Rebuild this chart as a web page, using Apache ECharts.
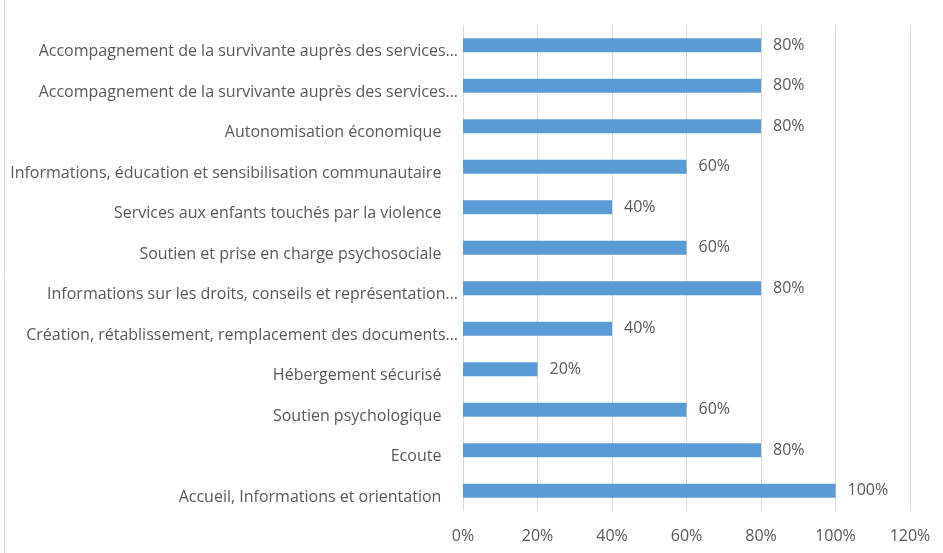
<!DOCTYPE html>
<html>
<head>
<meta charset="utf-8">
<script src="https://cdn.jsdelivr.net/npm/echarts@6/dist/echarts.min.js"></script>
<style>
  html, body { margin: 0; padding: 0; background: #fff; }
  #chart { width: 943px; height: 553px; }
</style>
</head>
<body>
<div id="chart"></div>
<script>
// Categories listed bottom to top (ECharts category axis starts at the bottom)
const categories = [
  'Accueil, Informations et orientation    ',
  'Ecoute    ',
  'Soutien psychologique    ',
  'Hébergement sécurisé    ',
  'Création, rétablissement, remplacement des documents…',
  'Informations sur les droits, conseils et représentation…',
  'Soutien et prise en charge psychosociale    ',
  'Services aux enfants touchés par la violence    ',
  'Informations, éducation et sensibilisation communautaire    ',
  'Autonomisation économique    ',
  'Accompagnement de la survivante auprès des services…',
  'Accompagnement de la survivante auprès des services…'
];
const values = [100, 80, 60, 20, 40, 80, 60, 40, 60, 80, 80, 80];
const axisTicks = [0, 20, 40, 60, 80, 100, 120];

const chart = echarts.init(document.getElementById('chart'));
const textColor = '#595959';
const fontFamily = '"Open Sans", sans-serif';

chart.setOption({
  animation: false,
  grid: { left: 463, right: 33, top: 25, bottom: 42, containLabel: false },
  xAxis: {
    type: 'value',
    min: axisTicks[0],
    max: axisTicks[axisTicks.length - 1],
    interval: 20,
    axisLine: { show: false },
    axisTick: { show: false },
    splitLine: { show: true, lineStyle: { color: '#d9d9d9', width: 1 } },
    axisLabel: {
      margin: 17,
      color: textColor,
      fontSize: 16,
      fontFamily: fontFamily,
      formatter: v => v + '%'
    }
  },
  yAxis: {
    type: 'category',
    data: categories,
    axisLine: { show: false },
    axisTick: { show: false },
    axisLabel: {
      margin: 5,
      color: textColor,
      fontSize: 16,
      fontFamily: fontFamily,
      verticalAlign: 'top',
      lineHeight: 13
    }
  },
  series: [{
    type: 'bar',
    data: values,
    barWidth: 14,
    itemStyle: { color: '#5b9bd5' },
    label: {
      show: true,
      position: 'right',
      distance: 12,
      color: textColor,
      fontSize: 16,
      fontFamily: fontFamily,
      formatter: p => p.value + '%'
    }
  }],
  graphic: [{
    type: 'line',
    shape: { x1: 4.5, y1: 0, x2: 4.5, y2: 553 },
    style: { stroke: '#d9d9d9', lineWidth: 1 }
  }]
});
</script>
</body>
</html>
